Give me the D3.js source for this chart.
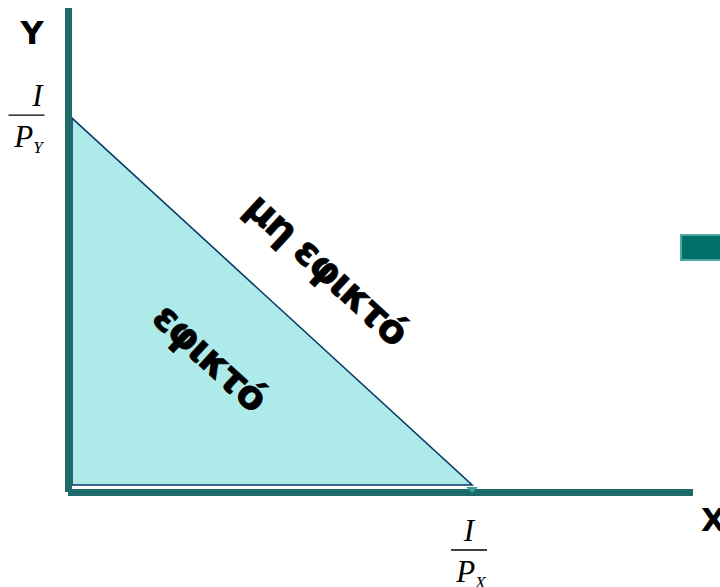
<!DOCTYPE html>
<html>
<head>
<meta charset="utf-8">
<script src="https://cdn.jsdelivr.net/npm/d3@7"></script>
<style>
  body { margin: 0; background: #fff; }
  svg { display: block; }
</style>
</head>
<body>
<svg id="chart" width="720" height="587"></svg>
<script>
// budget line: intercepts I/Px on X and I/Py on Y
var intercepts = [10, 10];          // [I/Px, I/Py]
var axisMax = [15.52, 13];          // axis lengths in the same units
var regionLabels = ["εφικτό", "μη εφικτό"];
var axisLabels = ["X", "Y"];

var svg = d3.select("#chart"),
    width = +svg.attr("width"),
    height = +svg.attr("height");

var x = d3.scaleLinear().domain([0, axisMax[0]]).range([72, 693]),
    y = d3.scaleLinear().domain([0, axisMax[1]]).range([485, 8]);

var axisColor = "#1e6a68",
    lineColor = "#0c3a6a";

// feasible set
var tri = [[0, 0], [0, intercepts[1]], [intercepts[0], 0]];
svg.append("path")
    .attr("d", d3.line().x(function (d) { return x(d[0]); }).y(function (d) { return y(d[1]); })(tri) + "Z")
    .attr("fill", "#afeaea")
    .attr("stroke", lineColor)
    .attr("stroke-width", 1.6)
    .attr("stroke-linejoin", "miter");

// axes (thick bars)
svg.append("rect")
    .attr("x", x(0) - 7).attr("y", y(axisMax[1]))
    .attr("width", 7).attr("height", y(0) + 7 - y(axisMax[1]))
    .attr("fill", axisColor);
svg.append("rect")
    .attr("x", x(0) - 4).attr("y", y(0) + 4)
    .attr("width", x(axisMax[0]) - x(0) + 4).attr("height", 7)
    .attr("fill", axisColor);

// little handle under the X intercept
svg.append("path")
    .attr("d", "M" + (x(intercepts[0]) - 6) + "," + (y(0) + 2) + "l6,6l6,-6Z")
    .attr("fill", "#3a9f9b");

// axis letters
svg.append("text").text(axisLabels[1])
    .attr("x", 32).attr("y", 44)
    .attr("text-anchor", "middle")
    .style("font", "bold 32px 'DejaVu Sans'");
svg.append("text").text(axisLabels[0])
    .attr("x", 701).attr("y", 531)
    .style("font", "bold 32px 'DejaVu Sans'");

// intercept fractions I / P
function fraction(cx, lineY, iShift, sub) {
    var g = svg.append("g").style("font-family", "'Liberation Serif'").style("font-style", "italic");
    g.append("text").text("I")
        .attr("x", cx + iShift).attr("y", lineY - 9)
        .attr("text-anchor", "middle")
        .style("font-size", "31px");
    g.append("line")
        .attr("x1", cx - 18).attr("x2", cx + 18)
        .attr("y1", lineY).attr("y2", lineY)
        .attr("stroke", "#000").attr("stroke-width", 1.4);
    var t = g.append("text")
        .attr("x", cx + 2).attr("y", lineY + 32)
        .attr("text-anchor", "middle")
        .style("font-size", "31px");
    t.append("tspan").text("P");
    t.append("tspan").text(sub).attr("dy", 6).style("font-size", "17px");
}
fraction(26.5, y(intercepts[1]) - 3, 11, "Y");
fraction(469, y(0) + 65, 0, "X");

// region labels, rotated along the budget line
var angle = Math.atan2(y(0) - y(intercepts[1]), x(intercepts[0]) - x(0)) * 180 / Math.PI;
svg.append("text").text(regionLabels[1])
    .attr("transform", "translate(318,279) rotate(" + angle + ")")
    .attr("text-anchor", "middle")
    .attr("letter-spacing", -1.5)
    .attr("stroke", "#000").attr("stroke-width", 0.8)
    .style("font", "bold 39px 'DejaVu Sans'");
svg.append("text").text(regionLabels[0])
    .attr("transform", "translate(201,367) rotate(" + angle + ")")
    .attr("text-anchor", "middle")
    .attr("letter-spacing", -1.5)
    .attr("stroke", "#000").attr("stroke-width", 0.8)
    .style("font", "bold 39px 'DejaVu Sans'");

// small block at the right edge
svg.append("rect")
    .attr("x", 681).attr("y", 235).attr("width", 45).attr("height", 25)
    .attr("fill", "#006f69")
    .attr("stroke", "#4fa7a3").attr("stroke-width", 2);
</script>
</body>
</html>
